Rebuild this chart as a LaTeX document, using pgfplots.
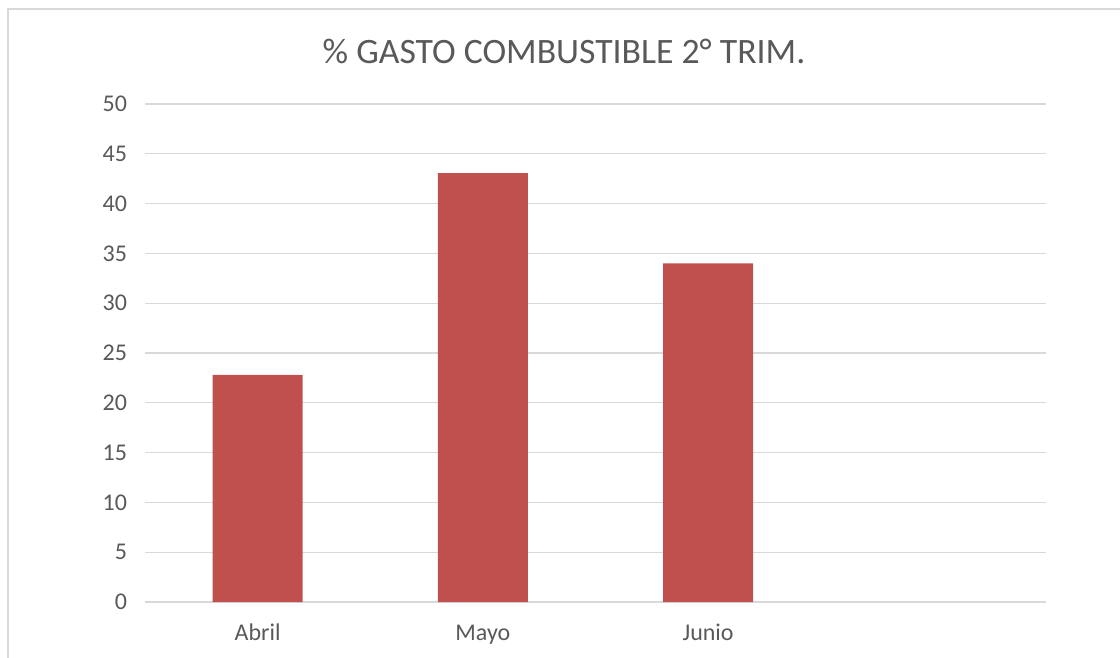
\documentclass[border=0pt]{standalone}
\usepackage{pgfplots}
\pgfplotsset{compat=1.18}
\usepackage{fontspec}
\setmainfont{Carlito}
\definecolor{barred}{HTML}{C0504D}
\definecolor{gridgray}{HTML}{D9D9D9}
\definecolor{txtgray}{HTML}{595959}
\begin{document}
\begin{tikzpicture}[x=0.75pt,y=0.75pt]
\useasboundingbox (0,0) rectangle (1120,657);
\draw[gridgray, line width=1.5pt] (8,648) rectangle (1140,-20);
\node[txtgray, font=\fontsize{26.8}{30}\selectfont] at (564,606) {\% GASTO COMBUSTIBLE 2° TRIM.};
\begin{axis}[
  at={(108.75pt,41.25pt)}, anchor=south west,
  scale only axis, width=675.75pt, height=373.5pt,
  xmin=-0.5, xmax=3.5, ymin=0, ymax=50,
  xtick={0,1,2}, xticklabels={Abril,Mayo,Junio},
  ytick={0,5,...,50},
  axis line style={draw=none},
  major tick length=0pt,
  ymajorgrids, grid style={gridgray, line width=1pt},
  tick label style={txtgray, font=\fontsize{18}{21}\selectfont},
  /pgf/number format/assume math mode=true,
  xticklabel style={text height=13pt, text depth=4pt, yshift=-12.5pt},
  yticklabel style={xshift=-10pt},
  clip=false,
]
\addplot[ybar, bar width=0.4, fill=barred, draw=none] coordinates {(0,22.8) (1,43.05) (2,34.0)};
\end{axis}
\end{tikzpicture}
\end{document}
